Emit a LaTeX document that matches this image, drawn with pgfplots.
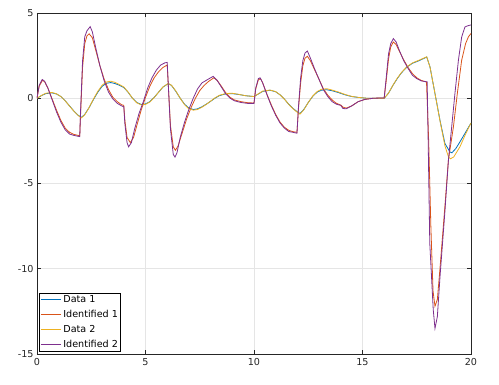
\documentclass[border=0pt]{standalone}
\usepackage{fontspec}
\setmainfont{DejaVu Sans}
\usepackage{pgfplots}
\pgfplotsset{compat=1.18}
\definecolor{c1}{HTML}{0072BD}
\definecolor{c2}{HTML}{D95319}
\definecolor{c3}{HTML}{EDB120}
\definecolor{c4}{HTML}{7E2F8E}
\definecolor{axc}{HTML}{262626}
\begin{document}
\begin{tikzpicture}
\begin{axis}[
  scale only axis,
  width=434pt, height=341pt,
  xmin=0, xmax=20, ymin=-15, ymax=5,
  xtick={0,5,10,15,20}, ytick={-15,-10,-5,0,5},
  tick align=inside, tick pos=both,
  major tick length=4pt,
  grid=major,
  grid style={color=black!10, line width=0.8pt},
  axis line style={color=axc, line width=0.8pt},
  tick style={color=axc, line width=0.8pt},
  ticklabel style={font=\fontsize{9.6}{11}\selectfont, text=axc},
  /pgf/number format/assume math mode=true,
  xticklabel style={yshift=-1pt},
  legend cell align=left,
  legend style={at={(0,0)}, anchor=south west, xshift=2pt, yshift=2pt,
    font=\fontsize{9.6}{11}\selectfont, draw=black, line width=0.8pt,
    inner xsep=1pt, inner ysep=1.5pt, row sep=4.3pt,
    nodes={inner xsep=1.8pt, inner ysep=1pt}},
  legend image code/.code={\draw[#1, line width=1.2pt] (0pt,0pt) -- (20pt,0pt);},
  every axis plot/.append style={line width=0.8pt},
]
\addplot[c1] coordinates {
(0,0) (0.2,0.15) (0.4,0.27) (0.68,0.32) (0.9,0.25) (1.1,0.1) (1.3,-0.15) (1.5,-0.45) (1.7,-0.75) (1.9,-1.0) (2.05,-1.12)
(2.2,-0.95) (2.4,-0.55) (2.6,-0.08) (2.8,0.35) (3.0,0.7) (3.2,0.88) (3.4,0.92) (3.6,0.86) (3.8,0.76) (4.0,0.63)
(4.2,0.35) (4.4,0.0) (4.6,-0.25) (4.82,-0.37) (5.0,-0.33) (5.2,-0.2) (5.4,0.05) (5.6,0.35) (5.8,0.65) (6.05,0.86)
(6.2,0.75) (6.4,0.4) (6.6,0.0) (6.8,-0.35) (7.0,-0.58) (7.21,-0.66) (7.4,-0.62) (7.6,-0.5) (7.8,-0.35) (8.0,-0.18)
(8.2,0.0) (8.4,0.15) (8.7,0.26) (9.0,0.27) (9.3,0.22) (9.6,0.15) (10.0,0.1) (10.2,0.25) (10.4,0.4) (10.74,0.47)
(11.0,0.38) (11.2,0.2) (11.4,-0.05) (11.6,-0.35) (11.8,-0.6) (12.0,-0.8) (12.12,-0.9) (12.3,-0.65) (12.5,-0.25)
(12.7,0.1) (12.9,0.35) (13.1,0.47) (13.35,0.5) (13.6,0.44) (13.9,0.33) (14.2,0.2) (14.5,0.1) (14.8,0.05) (15.2,0.0)
(16.0,0.0) (16.2,0.3) (16.4,0.75) (16.6,1.15) (16.8,1.5) (17.04,1.82) (17.3,2.05) (17.6,2.2) (17.85,2.35) (17.96,2.42)
(18.11,1.84) (18.34,0.28) (18.57,-1.29) (18.8,-2.66) (19.03,-3.15) (19.12,-3.2) (19.3,-2.95) (19.49,-2.56) (19.75,-2.0) (20,-1.45)
};
\addlegendentry{Data 1}
\addplot[c2] coordinates {
(0,0) (0.1,0.7) (0.25,1.05) (0.35,0.97) (0.5,0.6) (0.7,-0.05) (0.9,-0.7) (1.1,-1.3) (1.3,-1.75) (1.5,-2.0) (1.7,-2.12) (1.97,-2.2)
(2.0,-1.2) (2.1,1.8) (2.2,3.2) (2.3,3.65) (2.4,3.78) (2.55,3.55) (2.7,2.85) (2.9,1.9) (3.1,1.1) (3.3,0.5) (3.5,0.05) (3.7,-0.2)
(3.9,-0.38) (4.0,-0.42) (4.05,-1.3) (4.15,-2.3) (4.3,-2.6) (4.45,-2.3) (4.6,-1.6) (4.8,-0.7) (5.0,0.05) (5.2,0.7) (5.4,1.2)
(5.6,1.55) (5.8,1.8) (6.0,1.95) (6.05,0.8) (6.15,-1.6) (6.28,-2.85) (6.38,-3.05) (6.5,-2.8) (6.7,-2.0) (6.9,-1.2) (7.1,-0.55)
(7.3,0.0) (7.5,0.45) (7.7,0.75) (7.9,0.98) (8.15,1.2) (8.3,1.05) (8.5,0.7) (8.7,0.32) (8.9,0.05) (9.1,-0.1) (9.4,-0.2)
(9.7,-0.26) (10.0,-0.28) (10.08,0.55) (10.2,1.08) (10.3,1.15) (10.4,0.9) (10.6,0.22) (10.8,-0.4) (11.0,-0.95) (11.2,-1.4)
(11.4,-1.7) (11.6,-1.88) (11.8,-1.96) (11.98,-2.0) (12.05,-0.6) (12.15,0.9) (12.25,1.9) (12.35,2.35) (12.46,2.46) (12.6,2.2)
(12.8,1.65) (13.0,1.1) (13.2,0.55) (13.4,0.18) (13.6,-0.1) (13.8,-0.3) (14.0,-0.4) (14.1,-0.52) (14.25,-0.58) (14.5,-0.45)
(14.8,-0.2) (15.1,-0.07) (15.5,0.0) (16.0,0.02) (16.1,1.1) (16.2,2.3) (16.3,3.0) (16.42,3.3) (16.55,3.15) (16.7,2.75)
(16.9,2.25) (17.1,1.8) (17.3,1.45) (17.5,1.2) (17.7,1.05) (17.95,0.95) (18.05,-2.5) (18.15,-7.5) (18.25,-11.3) (18.34,-12.2)
(18.45,-11.8) (18.57,-10.0) (18.8,-6.3) (18.96,-3.6) (19.19,-1.68) (19.37,0.28) (19.57,2.23) (19.75,3.2) (19.88,3.6) (20,3.8)
};
\addlegendentry{Identified 1}
\addplot[c3] coordinates {
(0,0) (0.2,0.16) (0.4,0.29) (0.68,0.34) (0.9,0.26) (1.1,0.1) (1.3,-0.15) (1.5,-0.46) (1.7,-0.76) (1.9,-1.02) (2.05,-1.15)
(2.2,-0.97) (2.4,-0.55) (2.6,-0.05) (2.8,0.4) (3.0,0.76) (3.2,0.95) (3.4,1.0) (3.6,0.93) (3.8,0.8) (4.0,0.66)
(4.2,0.36) (4.4,0.0) (4.6,-0.27) (4.82,-0.4) (5.0,-0.36) (5.2,-0.22) (5.4,0.04) (5.6,0.35) (5.8,0.66) (6.05,0.87)
(6.2,0.76) (6.4,0.42) (6.6,0.0) (6.8,-0.38) (7.0,-0.62) (7.21,-0.7) (7.4,-0.66) (7.6,-0.53) (7.8,-0.36) (8.0,-0.17)
(8.2,0.02) (8.4,0.17) (8.7,0.28) (9.0,0.29) (9.3,0.23) (9.6,0.15) (10.0,0.1) (10.2,0.26) (10.4,0.42) (10.74,0.48)
(11.0,0.39) (11.2,0.2) (11.4,-0.05) (11.6,-0.36) (11.8,-0.62) (12.0,-0.83) (12.12,-0.93) (12.3,-0.67) (12.5,-0.25)
(12.7,0.12) (12.9,0.38) (13.1,0.52) (13.35,0.56) (13.6,0.48) (13.9,0.36) (14.2,0.22) (14.5,0.11) (14.8,0.05) (15.2,0.0)
(16.0,0.0) (16.2,0.3) (16.4,0.76) (16.6,1.17) (16.8,1.52) (17.04,1.84) (17.3,2.07) (17.6,2.23) (17.85,2.37) (17.96,2.43)
(18.11,1.84) (18.34,0.28) (18.57,-1.32) (18.8,-2.8) (18.96,-3.43) (19.05,-3.55) (19.2,-3.45) (19.49,-2.85) (19.75,-2.1) (20,-1.45)
};
\addlegendentry{Data 2}
\addplot[c4] coordinates {
(0,0) (0.1,0.75) (0.24,1.1) (0.35,1.0) (0.5,0.6) (0.7,-0.1) (0.9,-0.8) (1.1,-1.4) (1.3,-1.85) (1.5,-2.1) (1.7,-2.18) (1.97,-2.25)
(2.0,-1.0) (2.1,2.2) (2.2,3.6) (2.3,3.95) (2.45,4.2) (2.55,3.9) (2.7,3.0) (2.9,1.9) (3.1,1.0) (3.3,0.35) (3.5,-0.05) (3.7,-0.3)
(3.9,-0.45) (4.0,-0.5) (4.05,-1.5) (4.15,-2.6) (4.22,-2.85) (4.35,-2.6) (4.5,-1.8) (4.7,-0.9) (4.9,-0.2) (5.1,0.6) (5.3,1.2)
(5.5,1.65) (5.7,1.95) (5.9,2.08) (6.0,2.1) (6.05,0.8) (6.15,-1.8) (6.28,-3.3) (6.36,-3.45) (6.45,-3.2) (6.6,-2.3) (6.8,-1.4)
(7.0,-0.65) (7.2,0.0) (7.4,0.55) (7.6,0.9) (7.8,1.05) (8.0,1.2) (8.12,1.28) (8.3,1.05) (8.5,0.65) (8.7,0.25) (8.9,0.0)
(9.1,-0.15) (9.4,-0.25) (9.7,-0.3) (10.0,-0.3) (10.08,0.6) (10.2,1.15) (10.28,1.2) (10.4,0.9) (10.6,0.2) (10.8,-0.45)
(11.0,-1.0) (11.2,-1.45) (11.4,-1.75) (11.6,-1.95) (11.8,-2.0) (11.98,-2.05) (12.05,-0.5) (12.15,1.2) (12.25,2.2) (12.35,2.65)
(12.46,2.77) (12.6,2.35) (12.8,1.7) (13.0,1.1) (13.2,0.5) (13.4,0.1) (13.6,-0.2) (13.8,-0.35) (14.0,-0.42) (14.1,-0.6)
(14.25,-0.62) (14.5,-0.45) (14.8,-0.2) (15.1,-0.07) (15.5,0.0) (16.0,0.02) (16.1,1.3) (16.2,2.6) (16.3,3.2) (16.42,3.5)
(16.55,3.3) (16.7,2.8) (16.9,2.2) (17.1,1.75) (17.3,1.35) (17.5,1.15) (17.7,1.02) (17.98,0.96) (18.02,-2.0) (18.1,-8.5)
(18.26,-12.4) (18.34,-13.5) (18.45,-12.8) (18.57,-10.5) (18.8,-6.6) (18.96,-3.63) (19.11,-1.68) (19.26,0.28) (19.42,2.23)
(19.57,3.59) (19.72,4.18) (19.85,4.25) (20,4.3)
};
\addlegendentry{Identified 2}
\end{axis}
\pgfresetboundingbox
\path[use as bounding box] (current axis.south west) ++(-37pt,-31pt) rectangle ++(499pt,385pt);
\end{tikzpicture}
\end{document}
